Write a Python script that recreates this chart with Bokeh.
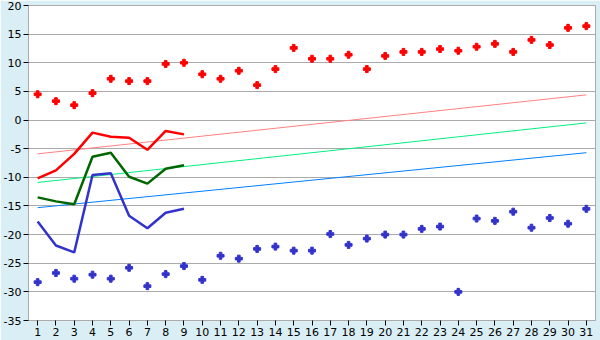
from bokeh.plotting import figure
from bokeh.models import FixedTicker, Range1d
from bokeh.embed import file_html
from bokeh.resources import INLINE

days = list(range(1, 32))
high_pts = [4.5, 3.3, 2.6, 4.7, 7.2, 6.8, 6.8, 9.8, 10.0, 8.0,
            7.2, 8.6, 6.1, 8.9, 12.6, 10.7, 10.7, 11.4, 8.9, 11.2,
            11.9, 11.9, 12.4, 12.1, 12.8, 13.3, 11.9, 14.0, 13.1, 16.1, 16.4]
low_pts = [-28.3, -26.7, -27.7, -27.0, -27.7, -25.8, -29.0, -26.9, -25.5, -27.9,
           -23.7, -24.2, -22.5, -22.1, -22.8, -22.8, -19.9, -21.8, -20.7, -20.0,
           -20.0, -19.0, -18.6, -30.0, -17.2, -17.6, -16.0, -18.8, -17.1, -18.1, -15.5]
line_days = list(range(1, 10))
red_line = [-10.2, -8.8, -5.9, -2.2, -2.9, -3.1, -5.2, -1.9, -2.5]
green_line = [-13.5, -14.2, -14.7, -6.4, -5.7, -9.9, -11.1, -8.5, -7.9]
blue_line = [-17.7, -21.9, -23.1, -9.6, -9.3, -16.7, -18.9, -16.2, -15.5]
trend_days = [1, 31]
trend_high = [-5.9, 4.4]
trend_mid = [-10.9, -0.5]
trend_low = [-15.3, -5.7]
y_ticks = [-35, -30, -25, -20, -15, -10, -5, 0, 5, 10, 15, 20]

p = figure(width=600, height=340, output_backend="svg", toolbar_location=None,
           x_range=Range1d(0.5, 31.5), y_range=Range1d(-35, 20),
           min_border_left=26, min_border_right=5, min_border_top=5, min_border_bottom=20)
p.border_fill_color = "#d9eef5"
p.background_fill_color = "white"
p.outline_line_color = "#aaaaaa"
p.xgrid.visible = False
p.ygrid.grid_line_color = "#aaaaaa"
p.ygrid.ticker = FixedTicker(ticks=y_ticks)

p.yaxis.ticker = FixedTicker(ticks=y_ticks)
p.yaxis.major_label_overrides = {t: str(t) for t in y_ticks}
p.xaxis.ticker = FixedTicker(ticks=days)
p.xaxis.major_label_overrides = {d: str(d) for d in days}
for ax in (p.xaxis, p.yaxis):
    ax.axis_line_color = "#aaaaaa"
    ax.major_tick_line_color = "#000000"
    ax.major_tick_out = 5
    ax.major_tick_in = 0
    ax.minor_tick_line_color = None
    ax.major_label_text_font = "DejaVu Sans"
    ax.major_label_text_font_size = "11px"
    ax.major_label_text_color = "black"
    ax.major_label_standoff = 2

p.line(trend_days, trend_high, color="#ff8080", line_width=1)
p.line(trend_days, trend_mid, color="#00f080", line_width=1)
p.line(trend_days, trend_low, color="#0080ff", line_width=1)

p.line(line_days, red_line, color="#ff0000", line_width=2.5)
p.line(line_days, green_line, color="#006600", line_width=2.5)
p.line(line_days, blue_line, color="#3333cc", line_width=2.5)

p.scatter(days, high_pts, marker="plus", size=7, color="#ff0000")
p.scatter(days, low_pts, marker="plus", size=7, color="#3333cc")

open("out.html", "w").write(file_html(p, INLINE))
